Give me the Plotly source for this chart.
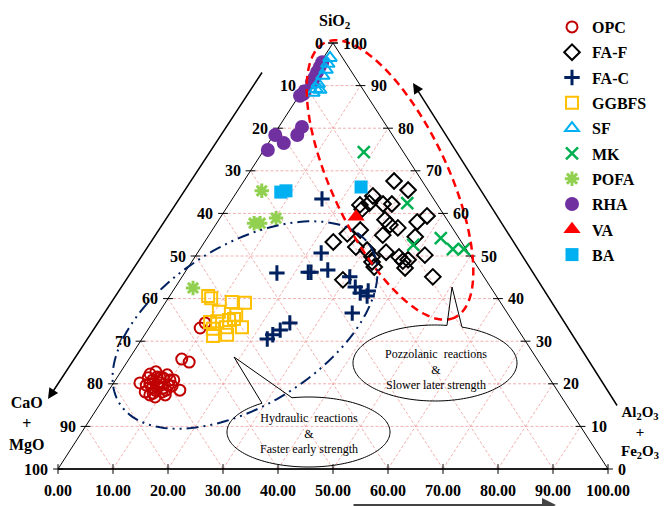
import numpy as np
import plotly.graph_objects as go

FONT = "Liberation Serif"

# ---------------- data (wt.%) : SiO2, Al2O3+Fe2O3, CaO+MgO ----------------
opc_sio2 = [33.1, 34.3, 25.8, 25.1, 20.2, 19.7, 20.9, 21.6, 20.2, 19.0, 19.0, 17.8, 18.1, 22.1, 20.9, 19.7,
            18.5, 19.7, 21.4, 16.9, 20.0, 21.4, 22.3, 22.8, 19.5, 17.4, 17.4, 18.1, 20.9, 21.4, 18.5, 18.5]
opc_alfe = [9.3, 9.6, 9.6, 11.3, 4.8, 6.2, 6.8, 7.2, 8.4, 7.6, 9.6, 8.4, 9.9, 8.8, 9.9, 10.2,
            12.9, 8.3, 5.7, 9.2, 6.7, 8.4, 5.6, 6.4, 11.0, 10.8, 8.0, 6.8, 10.6, 7.9, 8.4, 10.4]
opc_cao = [57.6, 56.1, 64.6, 63.6, 75.0, 74.1, 72.3, 71.2, 71.4, 73.4, 71.4, 73.8, 72.0, 69.1, 69.2, 70.1,
           68.6, 72.0, 72.9, 73.9, 73.3, 70.2, 72.1, 70.8, 69.5, 71.8, 74.6, 75.1, 68.5, 70.7, 73.1, 71.1]

faf_sio2 = [67.6, 65.5, 64.1, 62.4, 62.0, 61.0, 62.2, 62.2, 58.5, 57.3, 56.6, 58.0, 59.4, 55.2, 56.1, 54.9,
            54.5, 53.3, 52.1, 51.4, 50.9, 49.8, 48.6, 47.4, 49.8, 48.8, 49.1, 47.2, 50.2, 45.1, 44.4]
faf_alfe = [27.3, 30.9, 25.2, 25.4, 23.9, 24.8, 28.0, 29.6, 30.2, 31.7, 33.5, 36.3, 37.4, 25.0, 26.9, 31.6,
            37.7, 23.4, 28.1, 30.5, 34.2, 32.2, 32.8, 33.8, 37.1, 38.3, 39.1, 39.5, 41.6, 45.6, 29.6]
faf_cao = [5.1, 3.6, 10.7, 12.2, 14.1, 14.2, 9.8, 8.2, 11.3, 11.0, 9.9, 5.7, 3.2, 19.8, 17.0, 13.5,
           7.8, 23.3, 19.8, 18.1, 14.9, 18.0, 18.6, 18.8, 13.1, 12.9, 11.8, 13.3, 8.2, 9.3, 26.0]

fac_sio2 = [63.4, 50.7, 46.0, 46.2, 46.2, 46.7, 45.1, 42.7, 41.3, 40.6, 41.8, 36.6, 30.5, 31.5, 32.6, 34.3]
fac_alfe = [16.3, 22.5, 16.8, 22.4, 22.9, 25.7, 30.5, 32.7, 34.3, 35.9, 35.5, 35.2, 22.8, 23.3, 24.1, 25.0]
fac_cao = [20.3, 26.8, 37.2, 31.4, 30.9, 27.6, 24.4, 24.6, 24.4, 23.5, 22.7, 28.2, 46.7, 45.2, 43.3, 40.7]

ggbfs_sio2 = [40.6, 40.1, 39.2, 39.0, 36.9, 36.2, 34.5, 34.7, 35.0, 35.2, 33.3, 32.9, 31.2, 31.5, 33.3]
ggbfs_alfe = [7.0, 7.8, 12.0, 14.5, 10.8, 14.3, 10.4, 11.6, 13.6, 14.4, 16.8, 11.7, 12.6, 15.0, 13.9]
ggbfs_cao = [52.4, 52.1, 48.8, 46.5, 52.3, 49.5, 55.1, 53.7, 51.4, 50.4, 49.9, 55.4, 56.2, 53.5, 52.8]

sf_sio2 = [96.5, 95.1, 93.7, 92.3, 90.4, 89.2, 89.0, 88.3]
sf_alfe = [1.2, 1.5, 1.9, 2.0, 2.1, 2.3, 3.1, 2.2]
sf_cao = [2.3, 3.4, 4.4, 5.7, 7.5, 8.5, 7.9, 9.5]

mk_sio2 = [74.4, 62.4, 52.6, 54.2, 51.6, 51.6]
mk_alfe = [18.4, 32.3, 38.3, 42.5, 46.0, 48.0]
mk_cao = [7.2, 5.3, 9.1, 3.3, 2.4, 0.4]

pofa_sio2 = [65.3, 57.7, 57.7, 58.9, 42.5]
pofa_alfe = [4.4, 6.8, 7.9, 10.2, 3.3]
pofa_cao = [30.3, 35.5, 34.4, 30.9, 54.2]

rha_sio2 = [95.5, 94.4, 93.2, 92.0, 90.8, 88.7, 87.6, 88.0, 80.3, 78.4, 78.4, 76.5, 74.9]
rha_alfe = [0.3, 0.4, 0.5, 0.7, 0.8, 0.5, 0.2, 0.6, 4.2, 4.3, 0.3, 2.8, 0.7]
rha_cao = [4.2, 5.2, 6.3, 7.3, 8.4, 10.8, 12.2, 11.4, 15.5, 17.3, 21.3, 20.7, 24.4]

va_sio2 = [59.2]
va_alfe = [24.6]
va_cao = [16.2]

ba_sio2 = [66.2, 65.0, 65.3]
ba_alfe = [22.0, 8.0, 8.8]
ba_cao = [11.8, 27.0, 25.9]

# tick labels
al_ticks = [0, 10, 20, 30, 40, 50, 60, 70, 80, 90, 100]     # bottom edge
cao_ticks = [0, 10, 20, 30, 40, 50, 60, 70, 80, 90, 100]    # left edge
sio2_ticks = [0, 10, 20, 30, 40, 50, 60, 70, 80, 90, 100]   # right edge
grid_vals = [10, 20, 30, 40, 50, 60, 70, 80, 90]

# ---------------- helpers ----------------
def to_xy(s, a, c):
    s, a, c = (np.asarray(v, dtype=float) for v in (s, a, c))
    t = s + a + c
    return (a + s / 2) / t * 100, s / t * 100

# page geometry (screen pixels); the page body adds an 8px offset
FIG_W, FIG_H, OFF = 669, 506, 8
SL, ST, W, H = 58, 43, 550, 426       # screen position of the triangle's bounding box
KX, KY = W / 100, H / 100
XR = [(OFF - SL) / KX, (OFF + FIG_W - SL) / KX]
YR = [(ST + H - OFF - FIG_H) / KY, (ST + H - OFF) / KY]

def px2d(px, py):
    return (px - SL) / KX, (ST + H - py) / KY

def path_from_px(pts, close=True):
    d = []
    for i, (px, py) in enumerate(pts):
        x, y = px2d(px, py)
        d.append(("M" if i == 0 else "L") + f"{x:.3f},{y:.3f}")
    return " ".join(d) + (" Z" if close else "")

def rot_ellipse(cx, cy, a, b, ang, n=160):
    th = np.deg2rad(ang)
    t = np.linspace(0, 2 * np.pi, n, endpoint=False)
    xs = cx + a * np.cos(t) * np.cos(th) - b * np.sin(t) * np.sin(th)
    ys = cy + a * np.cos(t) * np.sin(th) + b * np.sin(t) * np.cos(th)
    return list(zip(xs, ys))

def callout(cx, cy, rx, ry, t_start, t_end, tip, n=160):
    t = np.deg2rad(np.linspace(t_start, t_end, n))
    pts = list(zip(cx + rx * np.cos(t), cy + ry * np.sin(t)))
    pts.append(tip)
    return pts

fig = go.Figure()

# grid lines
gx, gy = [], []
for v in grid_vals:
    for (s0, a0, c0), (s1, a1, c1) in [
        ((v, 0, 100 - v), (v, 100 - v, 0)),        # constant SiO2
        ((0, v, 100 - v), (100 - v, v, 0)),        # constant Al2O3+Fe2O3
        ((0, 100 - v, v), (100 - v, 0, v)),        # constant CaO+MgO
    ]:
        xx, yy = to_xy([s0, s1], [a0, a1], [c0, c1])
        gx += list(xx) + [None]
        gy += list(yy) + [None]
fig.add_trace(go.Scatter(x=gx, y=gy, mode="lines", line=dict(color="rgba(236,150,150,0.75)", width=1, dash="3px,2px"),
                         showlegend=False, hoverinfo="skip"))

# triangle border
tx, ty = to_xy([0, 100, 0, 0], [0, 0, 100, 0], [100, 0, 0, 100])
fig.add_trace(go.Scatter(x=tx, y=ty, mode="lines", line=dict(color="black", width=1),
                         showlegend=False, hoverinfo="skip"))
bx, by = to_xy([0, 0], [0, 100], [100, 0])
fig.add_trace(go.Scatter(x=bx, y=by, mode="lines", line=dict(color="black", width=1.6),
                         showlegend=False, hoverinfo="skip"))

# edge tick marks
lx, ly = to_xy([100 - v for v in cao_ticks], [0] * len(cao_ticks), cao_ticks)
rx_, ry_ = to_xy(sio2_ticks, [100 - v for v in sio2_ticks], [0] * len(sio2_ticks))
bx2, by2 = to_xy([0] * len(al_ticks), al_ticks, [100 - v for v in al_ticks])
fig.add_trace(go.Scatter(x=list(lx) + list(rx_), y=list(ly) + list(ry_), mode="markers",
                         marker=dict(symbol="line-ew", size=7, line=dict(color="black", width=1)),
                         showlegend=False, hoverinfo="skip"))
fig.add_trace(go.Scatter(x=bx2, y=by2, mode="markers",
                         marker=dict(symbol="line-ns", size=7, line=dict(color="black", width=1)),
                         showlegend=False, hoverinfo="skip"))

# (name, data..., symbol, colour, size, line width, legend rank)
series = [
    ("RHA", rha_sio2, rha_alfe, rha_cao, "circle", "#7030A0", 14, 0, 8),
    ("OPC", opc_sio2, opc_alfe, opc_cao, "circle-open", "#C00000", 11, 2, 1),
    ("FA-F", faf_sio2, faf_alfe, faf_cao, "diamond-open", "#000000", 12, 2, 2),
    ("FA-C", fac_sio2, fac_alfe, fac_cao, "cross-thin-open", "#002060", 11, 3, 3),
    ("GGBFS", ggbfs_sio2, ggbfs_alfe, ggbfs_cao, "square-open", "#FFC000", 12, 2, 4),
    ("SF", sf_sio2, sf_alfe, sf_cao, "triangle-up-open", "#00B0F0", 12, 2, 5),
    ("MK", mk_sio2, mk_alfe, mk_cao, "x-thin-open", "#00B050", 12, 2.5, 6),
    ("POFA", pofa_sio2, pofa_alfe, pofa_cao, "asterisk-open", "#92D050", 12, 3, 7),
    ("VA", va_sio2, va_alfe, va_cao, "triangle-up", "#FF0000", 15, 0, 9),
    ("BA", ba_sio2, ba_alfe, ba_cao, "square", "#00B0F0", 13, 0, 10),
]
for name, s, a, c, sym, col, size, lw, rank in series:
    x, y = to_xy(s, a, c)
    fig.add_trace(go.Scatter(
        x=x, y=y, mode="markers", name=name, legendgroup=name, legendrank=rank,
        marker=dict(symbol=sym, color=col, size=size, line=dict(color=col, width=lw)),
    ))

# ---------------- shapes ----------------
shapes = [
    dict(type="path", xref="x", yref="y", layer="above",
         path=path_from_px(rot_ellipse(390, 180, 152, 58, 64.8)),
         line=dict(color="#FF0000", width=2.5, dash="8px,5px")),
    dict(type="path", xref="x", yref="y", layer="above",
         path=path_from_px(rot_ellipse(245, 325, 148, 80, -32)),
         line=dict(color="#002060", width=2, dash="12px,5px,2px,5px,2px,5px")),
    dict(type="path", xref="x", yref="y", layer="above",
         path=path_from_px(callout(435, 363, 82, 38, -70.8, 278.4, (452, 287))),
         line=dict(color="black", width=1)),
    dict(type="path", xref="x", yref="y", layer="above",
         path=path_from_px(callout(308.5, 432, 81.5, 35, -101.7, 235.2, (234, 357))),
         line=dict(color="black", width=1)),
]

# ---------------- annotations (data coordinates) ----------------
ann = []
bold = dict(family=FONT, size=16, color="black", weight="bold")
for v in cao_ticks:
    x, y = to_xy([100 - v], [0], [v])
    ann.append(dict(x=x[0], y=y[0], xref="x", yref="y", text=str(v), showarrow=False,
                    xanchor="right", xshift=-8, font=bold))
for v in sio2_ticks:
    x, y = to_xy([v], [100 - v], [0])
    ann.append(dict(x=x[0], y=y[0], xref="x", yref="y", text=str(v), showarrow=False,
                    xanchor="left", xshift=8, font=bold))
for v in al_ticks:
    x, y = to_xy([0], [v], [100 - v])
    ann.append(dict(x=x[0], y=y[0], xref="x", yref="y", text=f"{v:.2f}", showarrow=False,
                    xanchor="center", yanchor="middle", yshift=-21, font=bold))

def txt(px, py, text, font):
    x, y = px2d(px, py)
    return dict(x=x, y=y, xref="x", yref="y", text=text, showarrow=False, font=font,
                xanchor="center", yanchor="middle", align="center")

ann.append(txt(335, 21, "SiO<sub>2</sub>", bold))
ann.append(txt(27, 424, "CaO<br>+<br>MgO", bold))
ann.append(txt(640, 432, "Al<sub>2</sub>O<sub>3</sub><br>+<br>Fe<sub>2</sub>O<sub>3</sub>",
               dict(family=FONT, size=15, color="black", weight="bold")))
reg = dict(family=FONT, size=12, color="black")
ann.append(txt(436, 369, "Pozzolanic  reactions<br>&amp;<br>Slower later strength", reg))
ann.append(txt(309, 433, "Hydraulic  reactions<br>&amp;<br>Faster early strength", reg))

def arrow(tip, tail, color, width):
    x, y = px2d(*tip)
    return dict(x=x, y=y, xref="x", yref="y", ax=tail[0] - tip[0], ay=tail[1] - tip[1],
                axref="pixel", ayref="pixel", showarrow=True, arrowhead=2, arrowsize=1.4,
                arrowwidth=width, arrowcolor=color, text="", standoff=0)

ann.append(arrow((48, 399), (263, 71), "black", 1.5))
ann.append(arrow((413, 83), (618, 407), "black", 1.5))
ann.append(arrow((556, 505), (352, 505), "#444444", 2))

fig.update_layout(
    width=FIG_W, height=FIG_H,
    margin=dict(l=0, r=0, t=0, b=0, pad=0, autoexpand=False),
    paper_bgcolor="white", plot_bgcolor="white",
    font=dict(family=FONT, color="black"),
    xaxis=dict(range=XR, domain=[0, 1], visible=False, fixedrange=True),
    yaxis=dict(range=YR, domain=[0, 1], visible=False, fixedrange=True),
    legend=dict(x=(552 - OFF) / FIG_W, y=1 - (10 - OFF) / FIG_H, xanchor="left", yanchor="top",
                bgcolor="rgba(0,0,0,0)", font=bold, tracegroupgap=1.5, traceorder="grouped",
                itemwidth=30),
    shapes=shapes, annotations=ann,
)

fig.write_html("out.html")
